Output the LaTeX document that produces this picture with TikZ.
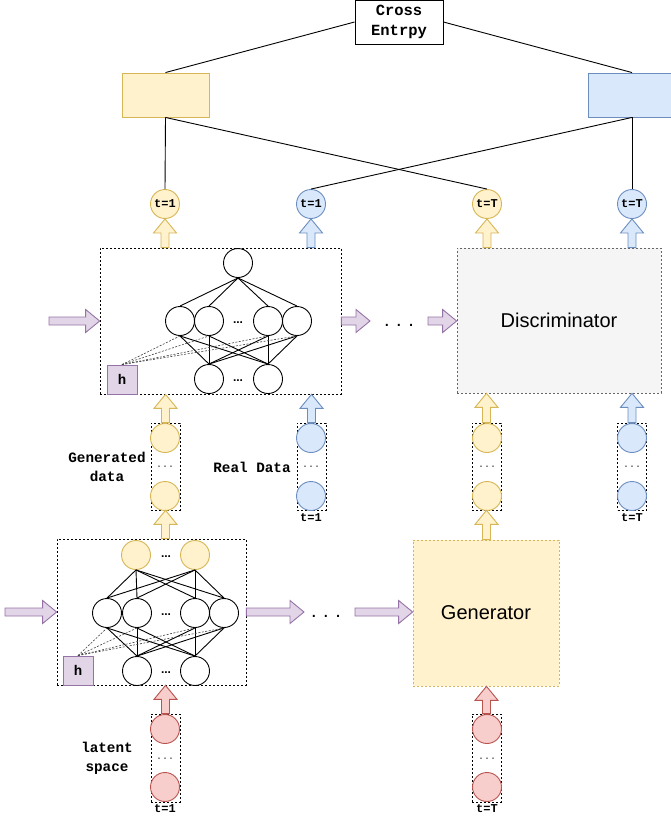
\documentclass[tikz,border=0pt]{standalone}
\usepackage{fontspec}
\setmainfont{Liberation Sans}
\setmonofont{Liberation Mono}
\usetikzlibrary{calc}
\definecolor{yfill}{HTML}{FFF2CC}\definecolor{ydraw}{HTML}{D6B656}
\definecolor{bfill}{HTML}{DAE8FC}\definecolor{bdraw}{HTML}{6C8EBF}
\definecolor{rfill}{HTML}{F8CECC}\definecolor{rdraw}{HTML}{B85450}
\definecolor{pfill}{HTML}{E1D5E7}\definecolor{pdraw}{HTML}{9673A6}
\definecolor{gfill}{HTML}{F5F5F5}\definecolor{gdraw}{HTML}{666666}
\tikzset{
  neuron/.style={circle,draw=black,line width=0.9pt,minimum size=29pt,inner sep=0pt},
  yneuron/.style={neuron,draw=ydraw,fill=yfill},
  bneuron/.style={neuron,draw=bdraw,fill=bfill},
  rneuron/.style={neuron,draw=rdraw,fill=rfill},
  tlbl/.style={font=\ttfamily\bfseries\fontsize{12}{14}\selectfont},
  lbl/.style={font=\ttfamily\bfseries\fontsize{14.3}{19}\selectfont,align=center},
  dbox/.style={draw=black,dash pattern=on 2pt off 2pt,line width=0.7pt,inner sep=0pt},
  edge/.style={draw=black,line width=0.9pt},
  hedge/.style={draw=black!75,dash pattern=on 2pt off 1.5pt,line width=0.6pt},
  hbox/.style={draw=pdraw,fill=pfill,line width=0.9pt,minimum width=30pt,minimum height=29pt,inner sep=0pt,font=\ttfamily\bfseries\fontsize{14}{16}\selectfont},
  ndots/.style={font=\bfseries\fontsize{12}{14}\selectfont,inner sep=0pt},
  sdots/.style={font=\ttfamily\fontsize{10}{12}\selectfont,text=black!80,inner sep=0pt},
  bdots/.style={font=\fontsize{20}{24}\selectfont,inner sep=0pt},
}
\newcommand\blockarrow[4]{%
  \coordinate (ba) at (#1);
  \coordinate (bb) at (#2);
  \coordinate (bh) at ($(bb)!14pt!(ba)$);
  \path[draw=#4,fill=#3,line width=0.9pt,line join=miter]
    ($(ba)!4pt!90:(bb)$) -- ($(bh)!4pt!90:(bb)$) -- ($(bh)!11.5pt!90:(bb)$) -- (bb)
    -- ($(bh)!11.5pt!-90:(bb)$) -- ($(bh)!4pt!-90:(bb)$) -- ($(ba)!4pt!-90:(bb)$) -- cycle;
}
\begin{document}
\begin{tikzpicture}[x=1pt,y=-1pt]
\useasboundingbox (0,0) rectangle (671,819);

% ---------- top ----------
\node[draw=black,line width=0.9pt,minimum width=88pt,minimum height=44pt,inner sep=0pt,
  font=\ttfamily\bfseries\fontsize{15.5}{20}\selectfont,align=center] (ce) at (399,22) {Cross\\Entrpy};
\node[draw=ydraw,fill=yfill,line width=0.9pt,minimum width=87pt,minimum height=44pt,inner sep=0pt] (yb) at (165.5,95) {};
\node[draw=bdraw,fill=bfill,line width=0.9pt,minimum width=88pt,minimum height=44pt,inner sep=0pt] (bbx) at (632,95) {};

\node[yneuron,tlbl] (yo1) at (165,204) {t=1};
\node[bneuron,tlbl] (bo1) at (311,204) {t=1};
\node[yneuron,tlbl] (yoT) at (487,204) {t=T};
\node[bneuron,tlbl] (boT) at (632,204) {t=T};

\draw[edge] (ce.west) -- (yb.north);
\draw[edge] (ce.east) -- (bbx.north);
\draw[edge] (yb.south) -- (yo1.north);
\draw[edge] (yb.south) -- (yoT.north);
\draw[edge] (bbx.south) -- (bo1.north);
\draw[edge] (bbx.south) -- (boT.north);

% ---------- discriminator network (t=1) ----------
\node[dbox,minimum width=241pt,minimum height=146pt] (dnet) at (220.5,321) {};
\node[neuron] (dt) at (238,263) {};
\node[neuron] (dm1) at (180,321) {};
\node[neuron] (dm2) at (209,321) {};
\node[neuron] (dm3) at (268,321) {};
\node[neuron] (dm4) at (297,321) {};
\node[ndots] (dmd) at (238,323) {...};
\node[neuron] (db1) at (209,379) {};
\node[neuron] (db2) at (268,379) {};
\node[ndots] (dbd) at (238,381) {...};
\foreach \m in {dm1,dm2,dm3,dm4} {
  \draw[edge] (dt.south) -- (\m.north);
  \draw[edge] (\m.south) -- (db1.north);
  \draw[edge] (\m.south) -- (db2.north);
}
\node[hbox] (dh) at (122,379.5) {h};
\foreach \m in {dm1,dm2,dm3,dm4} \draw[hedge] (dh.north) -- (\m.south);

% discriminator box
\node[draw=gdraw,fill=gfill,dash pattern=on 2pt off 2pt,line width=0.7pt,minimum width=204pt,minimum height=145pt,inner sep=0pt,
  font=\fontsize{20}{24}\selectfont] (disc) at (559,320.5) {Discriminator};

% horizontal arrows (discriminator)
\coordinate (din) at (49,321);
\blockarrow{din}{din -| dnet.west}{pfill}{pdraw}
\coordinate (dout) at (370,321);
\blockarrow{dnet.east |- dout}{dout}{pfill}{pdraw}
\node[bdots] (ddots) at (399,325) {.\,\,.\,\,.};
\coordinate (din2) at (428,321);
\blockarrow{din2}{din2 -| disc.west}{pfill}{pdraw}

% up arrows to outputs
\blockarrow{yo1.south |- dnet.north}{yo1.south}{yfill}{ydraw}
\blockarrow{bo1.south |- dnet.north}{bo1.south}{bfill}{bdraw}
\blockarrow{yoT.south |- disc.north}{yoT.south}{yfill}{ydraw}
\blockarrow{boT.south |- disc.north}{boT.south}{bfill}{bdraw}

% ---------- data stacks ----------
\node[dbox,minimum width=29pt,minimum height=87pt] (gs1) at (165.5,466.5) {};
\node[yneuron] (gs1a) at (165,438) {};
\node[yneuron] (gs1b) at (165,496) {};
\node[sdots] (gs1d) at (165,467) {...};
\node[dbox,minimum width=29pt,minimum height=87pt] (rs1) at (311.5,466.5) {};
\node[bneuron] (rs1a) at (311,438) {};
\node[bneuron] (rs1b) at (311,496) {};
\node[sdots] (rs1d) at (311,467) {...};
\node[tlbl] (rs1t) at (311,518) {t=1};
\node[dbox,minimum width=29pt,minimum height=87pt] (gsT) at (486.5,466.5) {};
\node[yneuron] (gsTa) at (487,438) {};
\node[yneuron] (gsTb) at (487,496) {};
\node[sdots] (gsTd) at (487,467) {...};
\node[dbox,minimum width=29pt,minimum height=87pt] (rsT) at (632,466.5) {};
\node[bneuron] (rsTa) at (632,438) {};
\node[bneuron] (rsTb) at (632,496) {};
\node[sdots] (rsTd) at (632,467) {...};
\node[tlbl] (rsTt) at (632,518) {t=T};

\node[lbl] (gdl) at (107,467) {Generated\\data};
\node[lbl] (rdl) at (252,467) {Real Data};

\blockarrow{gs1.north}{gs1.north |- dnet.south}{yfill}{ydraw}
\blockarrow{rs1.north}{rs1.north |- dnet.south}{bfill}{bdraw}
\blockarrow{gsT.north}{gsT.north |- disc.south}{yfill}{ydraw}
\blockarrow{rsT.north}{rsT.north |- disc.south}{bfill}{bdraw}

% ---------- generator network (t=1) ----------
\node[dbox,minimum width=189pt,minimum height=146pt] (gnet) at (151.5,612) {};
\node[yneuron] (gt1) at (136,555) {};
\node[yneuron] (gt2) at (195,555) {};
\node[ndots] (gtd) at (166,557) {...};
\node[neuron] (gm1) at (107,613) {};
\node[neuron] (gm2) at (137,613) {};
\node[neuron] (gm3) at (195,613) {};
\node[neuron] (gm4) at (224,613) {};
\node[ndots] (gmd) at (166,615) {...};
\node[neuron] (gb1) at (137,671) {};
\node[neuron] (gb2) at (195,671) {};
\node[ndots] (gbd) at (166,673) {...};
\foreach \m in {gm1,gm2,gm3,gm4} {
  \draw[edge] (gt1.south) -- (\m.north);
  \draw[edge] (gt2.south) -- (\m.north);
  \draw[edge] (\m.south) -- (gb1.north);
  \draw[edge] (\m.south) -- (gb2.north);
}
\node[hbox] (gh) at (78,670.5) {h};
\foreach \m in {gm1,gm2,gm3,gm4} \draw[hedge] (gh.north) -- (\m.south);

\node[draw=ydraw,fill=yfill,dash pattern=on 2pt off 2pt,line width=0.7pt,minimum width=146pt,minimum height=146pt,inner sep=0pt,
  font=\fontsize{20}{24}\selectfont] (gen) at (486,613) {Generator};

\coordinate (gin) at (5,612);
\blockarrow{gin}{gin -| gnet.west}{pfill}{pdraw}
\coordinate (gout) at (304,612);
\blockarrow{gnet.east |- gout}{gout}{pfill}{pdraw}
\node[bdots] (gdots) at (326,616) {.\,\,.\,\,.};
\coordinate (gin2) at (355,612);
\blockarrow{gin2}{gin2 -| gen.west}{pfill}{pdraw}

\blockarrow{gs1.south |- gnet.north}{gs1.south}{yfill}{ydraw}
\blockarrow{gsT.south |- gen.north}{gsT.south}{yfill}{ydraw}

% ---------- latent stacks ----------
\node[dbox,minimum width=29pt,minimum height=88pt] (ls1) at (165.5,758) {};
\node[rneuron] (ls1a) at (165,729) {};
\node[rneuron] (ls1b) at (165,787) {};
\node[sdots] (ls1d) at (165,759) {...};
\node[tlbl] (ls1t) at (165,809) {t=1};
\node[dbox,minimum width=29pt,minimum height=88pt] (lsT) at (486.5,758) {};
\node[rneuron] (lsTa) at (487,729) {};
\node[rneuron] (lsTb) at (487,787) {};
\node[sdots] (lsTd) at (487,759) {...};
\node[tlbl] (lsTt) at (487,809) {t=T};
\node[lbl] (ll) at (107,758) {latent\\space};

\blockarrow{ls1.north}{ls1.north |- gnet.south}{rfill}{rdraw}
\blockarrow{lsT.north}{lsT.north |- gen.south}{rfill}{rdraw}
\end{tikzpicture}
\end{document}
